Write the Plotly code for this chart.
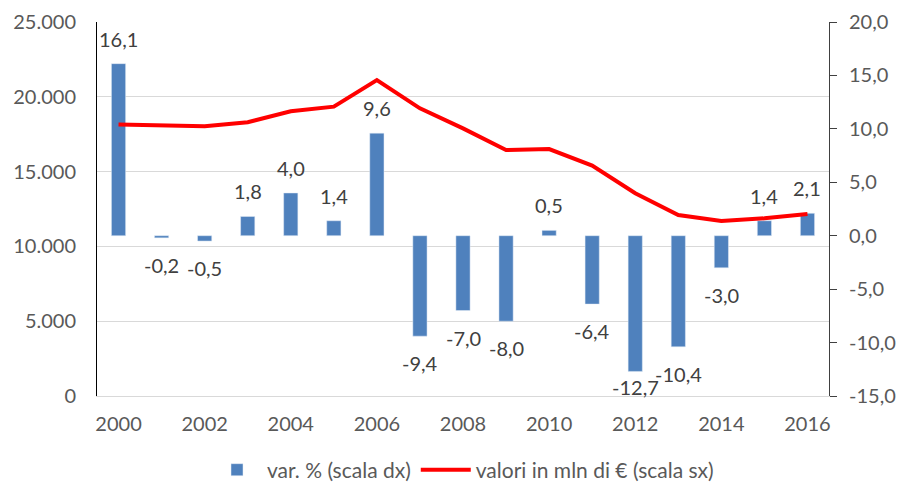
import plotly.graph_objects as go

years = list(range(2000, 2017))
var_pct = [16.1, -0.2, -0.5, 1.8, 4.0, 1.4, 9.6, -9.4, -7.0, -8.0, 0.5, -6.4, -12.7, -10.4, -3.0, 1.4, 2.1]
valori = [18150, 18080, 18030, 18300, 19030, 19340, 21120, 19230, 17890, 16440, 16510, 15400, 13550, 12100, 11700, 11880, 12170]

x_ticks = [2000, 2002, 2004, 2006, 2008, 2010, 2012, 2014, 2016]
left_ticks = [0, 5000, 10000, 15000, 20000, 25000]
left_labels = ["0", "5.000", "10.000", "15.000", "20.000", "25.000"]
right_ticks = [-15, -10, -5, 0, 5, 10, 15, 20]
right_labels = ["-15,0", "-10,0", "-5,0", "0,0", "5,0", "10,0", "15,0", "20,0"]

bar_name = "var. % (scala dx)"
line_name = "valori in mln di € (scala sx)"

FONT = "Lato"
TICK_COL = "#595959"
LABEL_COL = "#404040"
Y_RANGE = [-15, 20]
LABEL_SPAN = 3.8  # room (in axis units) a label needs below a negative bar

fig = go.Figure()
fig.add_trace(go.Bar(
    x=years, y=var_pct, name=bar_name, marker_color="#4F81BD",
    width=0.33, yaxis="y", hoverinfo="skip"
))
fig.add_trace(go.Scatter(
    x=years, y=valori, name=line_name, mode="lines",
    line=dict(color="#FF0000", width=4), yaxis="y2", hoverinfo="skip"
))

annotations = []
lab_font = dict(family=FONT, size=20, color=LABEL_COL)
for yr, v in zip(years, var_pct):
    txt = f"{v:.1f}".replace(".", ",")
    if v >= 0:
        annotations.append(dict(x=yr, y=v, xref="x", yref="y", text=txt, showarrow=False,
                                yanchor="bottom", yshift=11, font=lab_font))
    elif v - LABEL_SPAN < Y_RANGE[0]:
        # keep the label inside the plot area (as the source does)
        annotations.append(dict(x=yr, y=Y_RANGE[0], xref="x", yref="y", text=txt, showarrow=False,
                                yanchor="middle", yshift=9, font=lab_font))
    else:
        annotations.append(dict(x=yr, y=v, xref="x", yref="y", text=txt, showarrow=False,
                                yanchor="top", yshift=-13, font=lab_font))

fig.update_layout(
    width=898, height=484,
    margin=dict(l=97, r=69, t=22, b=88, autoexpand=False),
    paper_bgcolor="white", plot_bgcolor="white",
    font=dict(family=FONT, size=20, color=TICK_COL),
    showlegend=True,
    legend=dict(orientation="h", x=0.5, xanchor="center", y=-0.198, yanchor="middle",
                font=dict(family=FONT, size=21, color=TICK_COL), itemwidth=50),
    annotations=annotations,
    xaxis=dict(range=[1999.5, 2016.5], tickvals=x_ticks, showgrid=False, zeroline=False,
               showline=True, linecolor="#D9D9D9", linewidth=1, ticks="",
               ticklabelstandoff=10, tickfont=dict(family=FONT, size=20, color=TICK_COL)),
    yaxis=dict(side="right", range=Y_RANGE, tickvals=right_ticks, ticktext=right_labels,
               showgrid=False, zeroline=False, showline=True, linecolor="#404040", linewidth=1,
               ticks="outside", ticklen=7, tickcolor="#404040",
               ticklabelstandoff=8, tickfont=dict(family=FONT, size=20, color=TICK_COL)),
    yaxis2=dict(side="left", overlaying="y", range=[0, 25000], tickvals=left_ticks,
                ticktext=left_labels, showgrid=True, gridcolor="#D9D9D9", gridwidth=1,
                zeroline=False, showline=True, linecolor="#000000", linewidth=1, ticks="",
                ticklabelstandoff=16, tickfont=dict(family=FONT, size=20, color=TICK_COL)),
)

fig.write_html("out.html", config={"displayModeBar": False},
               post_script="document.body.style.margin='0';document.body.style.padding='0';")
